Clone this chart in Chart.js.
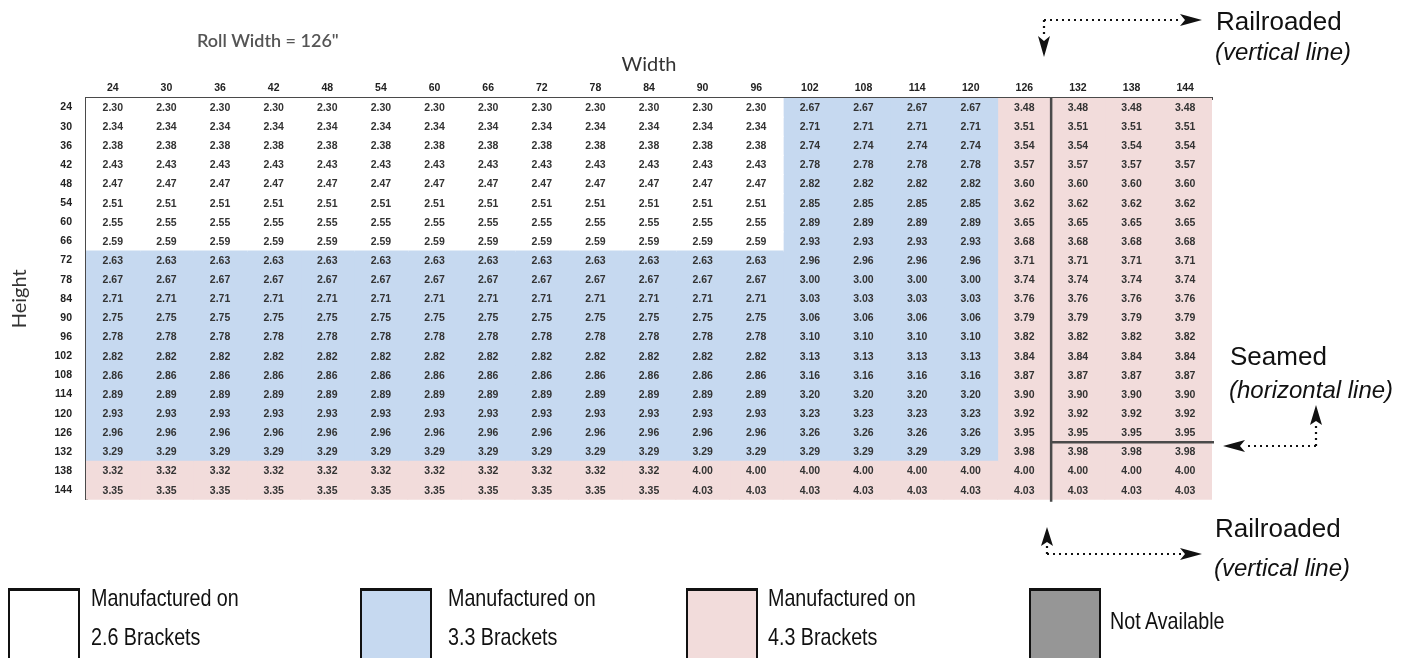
<!DOCTYPE html>
<html>
<head>
<meta charset="utf-8">
<script src="https://cdn.jsdelivr.net/npm/chart.js@4/dist/chart.umd.min.js"></script>
<style>
  body { margin: 0; background: #fff; font-family: 'Liberation Sans', Arial, sans-serif; }
  #page { position: relative; width: 1421px; height: 658px; overflow: hidden; }
  #chartBox { position: absolute; left: 0; top: 0; width: 1421px; height: 520px; filter: blur(0.35px); }
  #roll { position: absolute; left: 197px; top: 29px; font: 600 18px Lato, sans-serif; color: #555; line-height: 22px; filter: blur(0.4px); white-space: nowrap; }
  .note { position: absolute; font-size: 26px; line-height: 30px; color: #111; white-space: nowrap; }
  .note.sub { font-size: 24px; font-style: italic; }
  .key { position: absolute; top: 588px; width: 72px; height: 90px; border: 2px solid #111; border-top-width: 3px; box-sizing: border-box; }
  .keyText { position: absolute; font-size: 24px; line-height: 28px; color: #111; white-space: nowrap; transform: scaleX(0.82); transform-origin: 0 50%; }
  svg { position: absolute; left: 0; top: 0; }
</style>
</head>
<body>
<div id="page">
  <div id="chartBox"><canvas id="chart"></canvas></div>
  <div id="roll">Roll Width = 126"</div>

  <div class="note" style="left:1216px;top:6px">Railroaded</div>
  <div class="note sub" style="left:1215px;top:37px">(vertical line)</div>
  <div class="note" style="left:1230px;top:341px">Seamed</div>
  <div class="note sub" style="left:1229px;top:375px">(horizontal line)</div>
  <div class="note" style="left:1215px;top:513px">Railroaded</div>
  <div class="note sub" style="left:1214px;top:553px">(vertical line)</div>

  <svg width="1421" height="658">
    <g stroke="#111" stroke-width="2.2" stroke-dasharray="2 4" fill="none">
      <path d="M1044 20 H1182 M1044 20 V38"/>
      <path d="M1047 554 H1182 M1047 554 V544"/>
      <path d="M1316 446 H1245 M1316 446 V426"/>
    </g>
    <g fill="#111">
      <polygon points="1202,20 1180,14 1185,20 1180,26"/>
      <polygon points="1044,57 1038,36 1044,41 1050,36"/>
      <polygon points="1047,527 1041,546 1047,542 1053,546"/>
      <polygon points="1202,554 1180,548 1185,554 1180,560"/>
      <polygon points="1223,446 1245,440 1240,446 1245,452"/>
      <polygon points="1316,405 1310,425 1316,421 1322,425"/>
    </g>
  </svg>

  <div class="key" style="left:8px;background:#ffffff"></div>
  <div class="keyText" style="left:91px;top:584px">Manufactured on</div>
  <div class="keyText" style="left:91px;top:623px">2.6 Brackets</div>
  <div class="key" style="left:360px;background:#c6d9f0"></div>
  <div class="keyText" style="left:448px;top:584px">Manufactured on</div>
  <div class="keyText" style="left:448px;top:623px">3.3 Brackets</div>
  <div class="key" style="left:686px;background:#f2dcdb"></div>
  <div class="keyText" style="left:768px;top:584px">Manufactured on</div>
  <div class="keyText" style="left:768px;top:623px">4.3 Brackets</div>
  <div class="key" style="left:1029px;background:#969696"></div>
  <div class="keyText" style="left:1110px;top:607px">Not Available</div>
</div>

<script>
// --- DATA ---
const widths = [24, 30, 36, 42, 48, 54, 60, 66, 72, 78, 84, 90, 96, 102, 108, 114, 120, 126, 132, 138, 144];
const heights = [24, 30, 36, 42, 48, 54, 60, 66, 72, 78, 84, 90, 96, 102, 108, 114, 120, 126, 132, 138, 144];
const rollWidth = 126;

// price by height, per width band
const priceTo96 = [2.30, 2.34, 2.38, 2.43, 2.47, 2.51, 2.55, 2.59, 2.63, 2.67, 2.71, 2.75, 2.78, 2.82, 2.86, 2.89, 2.93, 2.96, 3.29, 3.32, 3.35];
const priceTo120 = [2.67, 2.71, 2.74, 2.78, 2.82, 2.85, 2.89, 2.93, 2.96, 3.00, 3.03, 3.06, 3.10, 3.13, 3.16, 3.20, 3.23, 3.26, 3.29, 4.00, 4.03];
const priceOver120 = [3.48, 3.51, 3.54, 3.57, 3.60, 3.62, 3.65, 3.68, 3.71, 3.74, 3.76, 3.79, 3.82, 3.84, 3.87, 3.90, 3.92, 3.95, 3.98, 4.00, 4.03];
// rows 138/144 switch to the 4.xx prices from width 90 on
const seamPriceFrom = { width: 90, height: 138 };

const bracketColors = { '2.6': '#ffffff', '3.3': '#c6d9f0', '4.3': '#f2dcdb' };

function bracketOf(w, h) {
    if (w > 120 || h > 132) return '4.3';
    if (w <= 96 && h <= 66) return '2.6';
    return '3.3';
}

function priceFor(w, h) {
    const i = heights.indexOf(h);
    if (h >= seamPriceFrom.height && w >= seamPriceFrom.width) return priceOver120[i];
    if (w <= 96) return priceTo96[i];
    if (w <= 120) return priceTo120[i];
    return priceOver120[i];
}

const half = (widths[1] - widths[0]) / 2;

// --- PLUGINS ---
const cellText = {
    id: 'cellText',
    afterDatasetsDraw(chart) {
        const { ctx, chartArea, scales: { x, y } } = chart;
        ctx.save();
        ctx.font = 'bold 10.5px "Liberation Sans"';
        ctx.fillStyle = '#333';
        ctx.textAlign = 'center';
        ctx.textBaseline = 'middle';
        chart.data.datasets.forEach((ds, di) => {
            chart.getDatasetMeta(di).data.forEach((bar, hi) => {
                const p = bar.getCenterPoint();
                ctx.fillText(priceFor(widths[di], heights[hi]).toFixed(2), p.x, p.y + 0.5);
            });
        });

        // railroaded (vertical) and seamed (horizontal) lines at the roll width
        const xr = x.getPixelForValue(rollWidth + half);
        const ri = heights.indexOf(rollWidth);
        const ys = (y.getPixelForValue(ri) + y.getPixelForValue(ri + 1)) / 2;
        ctx.strokeStyle = '#4a4a4a';
        ctx.lineWidth = 2.5;
        ctx.beginPath();
        ctx.moveTo(xr, chartArea.top);
        ctx.lineTo(xr, chartArea.bottom + 2);
        ctx.moveTo(xr, ys);
        ctx.lineTo(chartArea.right + 2, ys);
        ctx.stroke();
        ctx.restore();
    }
};

// --- CHART ---
const PAD_TOP = 53, PAD_LEFT = 8;

new Chart(document.getElementById('chart'), {
    type: 'bar',
    data: {
        labels: heights.map(String),
        datasets: widths.map(w => ({
            label: String(w),
            data: heights.map(() => [w - half, w + half]),
            backgroundColor: heights.map(h => bracketColors[bracketOf(w, h)]),
            borderWidth: 0,
            inflateAmount: 0.6,
            grouped: false,
            barPercentage: 1,
            categoryPercentage: 1
        }))
    },
    options: {
        indexAxis: 'y',
        responsive: true,
        maintainAspectRatio: false,
        animation: false,
        layout: { padding: { left: PAD_LEFT, top: PAD_TOP, right: 209, bottom: 10 } },
        plugins: { legend: { display: false }, tooltip: { enabled: false } },
        scales: {
            x: {
                type: 'linear',
                position: 'top',
                min: widths[0] - half,
                max: widths[widths.length - 1] + half,
                afterBuildTicks: s => { s.ticks = widths.map(v => ({ value: v })); },
                afterFit: s => { s.height = 98 - PAD_TOP; },
                grid: { display: false, drawTicks: false },
                border: { display: true, color: '#4a4a4a', width: 3 },
                ticks: { padding: 4, color: '#222', font: { family: 'Liberation Sans', size: 10.5, weight: 'bold' }, maxRotation: 0, autoSkip: false },
                title: { display: true, text: 'Width', color: '#333', padding: 0, font: { family: 'Lato', size: 20 } }
            },
            y: {
                type: 'category',
                afterFit: s => { s.width = 86 - PAD_LEFT; },
                grid: { display: false, drawTicks: false },
                border: { display: true, color: '#4a4a4a', width: 3 },
                ticks: { padding: 14, color: '#222', font: { family: 'Liberation Sans', size: 10.5, weight: 'bold' }, autoSkip: false },
                title: { display: true, text: 'Height', color: '#333', padding: 0, font: { family: 'Lato', size: 20 } }
            }
        }
    },
    plugins: [cellText]
});
</script>
</body>
</html>
